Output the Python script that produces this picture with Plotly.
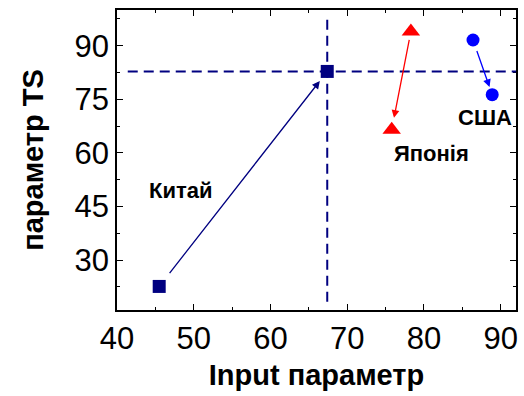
import plotly.graph_objects as go

# Data
countries = ["Китай", "Японія", "США"]
x_start = [45.5, 78.3, 86.4]
y_start = [22.6, 94.0, 91.6]
x_end = [67.4, 75.8, 88.9]
y_end = [82.8, 66.5, 76.3]
colors = ["#000080", "#FF0000", "#0000FF"]
symbols = ["square", "triangle-up", "circle"]
ref_x = 67.4
ref_y = 82.8
x_ticks = [40, 50, 60, 70, 80, 90]
y_ticks = [30, 45, 60, 75, 90]

FONT = "Liberation Sans, Arial, sans-serif"

fig = go.Figure()

for i, c in enumerate(countries):
    fig.add_trace(go.Scatter(
        x=[x_start[i], x_end[i]], y=[y_start[i], y_end[i]],
        mode="markers",
        marker=dict(symbol=symbols[i], color=colors[i],
                    size=16 if symbols[i] == "triangle-up" else 13,
                    line=dict(width=0)),
        showlegend=False, name=c))

# dashed reference lines
fig.add_shape(type="line", x0=ref_x, x1=ref_x, y0=18.3, y1=97.5,
              xref="x", yref="y", line=dict(color="#000080", width=2, dash="10px,6px"))
fig.add_shape(type="line", x0=41.4, x1=92, y0=ref_y, y1=ref_y,
              xref="x", yref="y", line=dict(color="#000080", width=2, dash="10px,6px"))

# arrows
standoffs = [(15, 12), (7, 12), (10, 8)]
for i, c in enumerate(countries):
    fig.add_annotation(x=x_end[i], y=y_end[i], ax=x_start[i], ay=y_start[i],
                       xref="x", yref="y", axref="x", ayref="y",
                       showarrow=True, arrowhead=2, arrowsize=1.2, arrowwidth=1.3,
                       arrowcolor=colors[i], text="",
                       startstandoff=standoffs[i][0], standoff=standoffs[i][1])

# labels
label_pos = [(48.4, 49.6), (81.0, 59.8), (88.0, 69.9)]
for i, c in enumerate(countries):
    fig.add_annotation(x=label_pos[i][0], y=label_pos[i][1], text="<b>" + c + "</b>", showarrow=False,
                       xref="x", yref="y",
                       font=dict(family=FONT, size=22, color="black"))

axis_common = dict(
    showline=True, linecolor="black", linewidth=1.5, mirror="allticks",
    ticks="inside", ticklen=6, tickwidth=1.3, tickcolor="black",
    showgrid=False, zeroline=False,
    tickfont=dict(family=FONT, size=31, color="black"),
)

fig.update_xaxes(range=[40, 92], tickvals=x_ticks,
                 minor=dict(ticks="inside", ticklen=3, tickwidth=1.2, dtick=5, tick0=0, tickcolor="black", showgrid=False),
                 title=dict(text="<b>Input параметр</b>", font=dict(family=FONT, size=29, color="black"), standoff=10),
                 **axis_common)
fig.update_yaxes(range=[16, 100], tickvals=y_ticks,
                 minor=dict(ticks="inside", ticklen=3, tickwidth=1.2, dtick=7.5, tick0=0, tickcolor="black", showgrid=False),
                 title=dict(text="<b>параметр TS</b>", font=dict(family=FONT, size=29, color="black"), standoff=22),
                 **axis_common)

fig.update_layout(width=524, height=396, margin=dict(l=117, r=6, t=10, b=86),
                  plot_bgcolor="white", paper_bgcolor="white")

fig.write_html("out.html", config={"displayModeBar": False},
               post_script="document.body.style.margin='0';document.body.style.overflow='hidden';")
